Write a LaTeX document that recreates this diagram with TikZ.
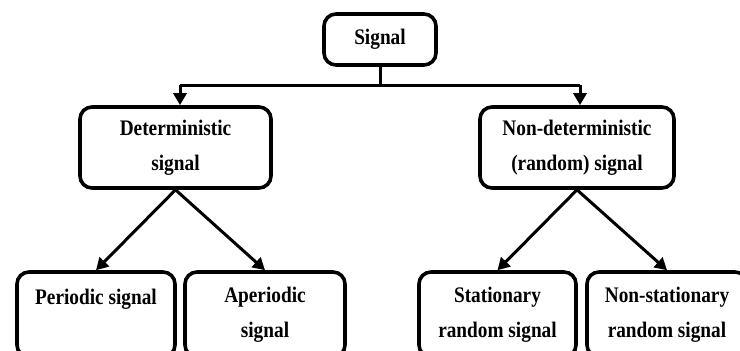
\documentclass[tikz,border=0pt]{standalone}
\usepackage{fontspec}
\usepackage{graphicx}
\setmainfont{Liberation Serif}
\usetikzlibrary{arrows.meta,calc}
\newcommand{\stt}[1]{\scalebox{1}[1.15]{#1}}
\begin{document}
\begin{tikzpicture}[x=1pt,y=-1pt,
  box/.style={draw=black,line width=3.6pt,rounded corners=12pt,fill=white,
    align=center,inner sep=0pt,font=\fontsize{19.3}{35}\selectfont\bfseries},
  conn/.style={line width=3pt,draw=black},
  arr/.style={conn,-{Triangle[length=12pt,width=13pt]}}]
\useasboundingbox (0,0) rectangle (740,351);
\fill[white] (0,0) rectangle (740,351);
\begin{scope}
\clip (0,0) rectangle (740,351);
\node[box,minimum width=112pt,minimum height=51pt] (sig) at (380,39.5) {\stt{Signal}};
\node[box,minimum width=191pt,minimum height=81pt] (det) at (175.5,147.5) {\stt{Deterministic}\\\stt{signal}};
\node[box,minimum width=194pt,minimum height=81pt] (nondet) at (577,147.5) {\stt{Non-deterministic}\\\stt{(random) signal}};
\node[box,minimum width=158pt,minimum height=85pt] (per) at (96,314.5) {\stt{Periodic signal}\\\mbox{}};
\node[box,minimum width=160pt,minimum height=85pt] (aper) at (265,314.5) {\stt{Aperiodic}\\\stt{signal}};
\node[box,minimum width=157pt,minimum height=85pt] (stat) at (497.5,314.5) {\stt{Stationary}\\\stt{random signal}};
\node[box,minimum width=160pt,minimum height=85pt] (nstat) at (667,314.5) {\stt{Non-stationary}\\\stt{random signal}};
\coordinate (j) at (380,85);
\coordinate (jl) at (180,85);
\coordinate (jr) at (580,85);
\draw[conn] (sig.south) -- (j);
\draw[conn] (jl) -- (jr);
\draw[arr] (jl) -- (jl |- det.north);
\draw[arr] (jr) -- (jr |- nondet.north);
\draw[arr] (det.south) -- (per.north);
\draw[arr] (det.south) -- (aper.north);
\draw[arr] (nondet.south) -- (stat.north);
\draw[arr] (nondet.south) -- (nstat.north);
\end{scope}
\end{tikzpicture}
\end{document}
